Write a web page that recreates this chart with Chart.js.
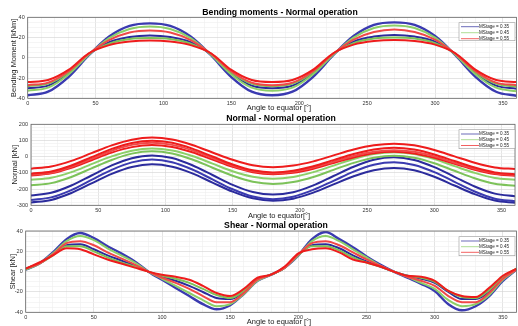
<!DOCTYPE html>
<html><head><meta charset="utf-8">
<script src="https://cdn.jsdelivr.net/npm/chart.js@4.4.1/dist/chart.umd.min.js"></script>
<style>
body{margin:0;background:#fff;width:518px;height:326px;overflow:hidden;position:relative}
canvas{position:absolute;left:0;top:0}
</style>
</head><body>
<canvas id="c1" width="518" height="326"></canvas>
<canvas id="c2" width="518" height="326"></canvas>
<canvas id="c3" width="518" height="326"></canvas>
<script>
// ---- data ----
const angles15 = [0,15,30,45,60,75,90,105,120,135,150,165,180,195,210,225,240,255,270,285,300,315,330,345,360];
const angles10 = [0,10,20,30,40,50,60,70,80,90,100,110,120,130,140,150,160,170,180,190,200,210,220,230,240,250,260,270,280,290,300,310,320,330,340,350,360];
const legendLabels = ["MStage = 0.35","MStage = 0.45","MStage = 0.55"];

// Bending moments [kNm]
const bendBlueA  = [-37,-33.5,-19,2.5,21,31.5,34,31.5,21,2.5,-19,-33.5,-37,-33.5,-19,2.5,21.5,32.5,35,32.5,21.5,2.5,-19,-33.5,-37.5];
const bendGreenA = [-32.5,-29.5,-16.5,3,19.5,28.5,31,28.5,19.5,3,-16.5,-29.5,-32.5,-29.5,-16.5,3,20,29.5,32,29.5,20,3,-16.5,-29.5,-33];
const bendRedA   = [-27,-24.5,-13.5,4,17.5,25,27,25,17.5,4,-13.5,-24.5,-27,-24.5,-13.5,4,18,25.5,28,25.5,18,4,-13.5,-24.5,-27];
const bendBlueB  = [-30,-27.5,-15.5,3.5,15.5,20.5,22,20.5,15.5,3.5,-15.5,-27.5,-30,-27.5,-15.5,3.5,16,21,22.5,21,16,3.5,-15.5,-27.5,-30.5];
const bendGreenB = [-28,-25.5,-14.5,4,14,18.5,19.5,18.5,14,4,-14.5,-25.5,-28,-25.5,-14.5,4,14.5,19,20,19,14.5,4,-14.5,-25.5,-28.5];
const bendRedB   = [-24,-22,-12,4.5,12.5,16,17,16,12.5,4.5,-12,-22,-24,-22,-12,4.5,13,16.5,17.5,16.5,13,4.5,-12,-22,-24];

// Normal [kN]
const normRed1   = [-74,-61,-26,22,70,105,118,106,72,26,-19,-53,-65,-55,-29,8,44,70,80,70,41,2,-37,-66,-76];
const normRed2   = [-105,-91,-54,-3,48,85,99,86,50,1,-48,-84,-97,-87,-59,-21,17,45,55,44,14,-27,-67,-97,-108];
const normRed3   = [-112,-99,-62,-13,37,73,86,73,39,-8,-56,-90,-103,-93,-67,-31,4,30,40,30,2,-37,-75,-103,-113];
const normRed4   = [-116,-103,-69,-22,25,59,72,60,27,-18,-63,-96,-108,-99,-74,-39,-5,21,30,20,-7,-44,-80,-107,-117];
const normGreen1 = [-143,-130,-95,-46,2,37,50,38,4,-43,-90,-124,-136,-125,-95,-55,-14,16,27,16,-15,-58,-100,-131,-142];
const normGreen2 = [-177,-163,-125,-72,-20,19,33,20,-17,-68,-118,-155,-168,-156,-125,-81,-38,-6,6,-6,-40,-87,-133,-167,-179];
const normBlue1  = [-240,-223,-178,-116,-54,-9,8,-8,-53,-113,-174,-218,-234,-219,-177,-119,-62,-19,-4,-20,-64,-124,-184,-228,-244];
const normBlue2  = [-268,-251,-206,-143,-81,-35,-18,-34,-79,-140,-201,-246,-262,-247,-205,-149,-92,-50,-35,-51,-95,-155,-215,-259,-275];
const normBlue3  = [-283,-267,-224,-165,-106,-63,-47,-62,-103,-160,-216,-257,-272,-259,-222,-171,-121,-84,-70,-84,-124,-178,-231,-271,-285];

// Shear [kN]
const shearBlueA  = [2,8,19,32,38,33,25,18,10,0,-8,-16,-24,-32,-37,-33,-22,-9,-3,4,16,32,39,32,24,15,7,0,-6,-12,-19,-32,-38,-34,-24,-9,2];
const shearGreenA = [2,8,18,30,35,31,23,16,9,0,-7,-14,-21,-28,-34,-32,-22,-9,-3,4,16,30,35,30,22,14,6,0,-5,-11,-17,-28,-34,-32,-23,-8,2];
const shearRedA   = [3,8,17,28,30,26,19,13,7,0,-6,-11,-17,-24,-30,-30,-21,-8,-3,4,17,28,30,26,19,12,6,0,-5,-9,-14,-24,-30,-30,-21,-7,2];
const shearBlueB  = [3,8,17,26,27,22,16,11,6,0,-5,-9,-14,-20,-26,-27,-20,-8,-3,4,17,26,27,23,16,10,5,0,-4,-7,-11,-20,-27,-27,-20,-6,2];
const shearGreenB = [3,8,16,25,25,20,14,9,5,0,-4,-7,-11,-17,-23,-26,-19,-7,-3,4,17,25,25,21,14,9,5,0,-4,-6,-10,-19,-25,-26,-18,-5,3];
const shearRedB   = [3,9,16,23,22,17,12,8,4,0,-3,-5,-8,-14,-21,-24,-17,-6,-3,5,18,22,23,19,12,9,5,0,-4,-5,-9,-19,-24,-25,-16,-4,3];

// ---- styling ----
const BLUE = '#2b2b9c', BLUE2 = '#3a3ab0';
const GREEN = '#8ccf68', GREEN2 = '#7cc259';
const RED = '#ee1c1c', RED2 = '#f04848';
const legendColors = [BLUE, GREEN, RED];
const FONT = '"Liberation Sans", Arial, sans-serif';

function ds(xs, ys, color, w) {
  return {
    data: xs.map((x, i) => ({x: x, y: ys[i]})),
    borderColor: color, borderWidth: w || 2, pointRadius: 0,
    cubicInterpolationMode: 'monotone', fill: false
  };
}

const decor = {
  id: 'decor',
  afterDraw(chart) {
    const o = chart.options.plugins.decor;
    const c = chart.ctx, a = chart.chartArea;
    c.save();
    // frame
    c.strokeStyle = '#666'; c.lineWidth = 0.8;
    c.strokeRect(a.left, a.top, a.right - a.left, a.bottom - a.top);
    // title
    c.fillStyle = '#000'; c.font = 'bold 8.7px ' + FONT;
    c.textAlign = 'center'; c.textBaseline = 'middle';
    c.fillText(o.title, o.titleX, o.titleY);
    // x label
    c.fillStyle = '#222'; c.font = '7.5px ' + FONT;
    c.fillText(o.xlabel, o.xlabelX, o.xlabelY);
    // y label
    c.save();
    c.translate(o.ylabelX, (a.top + a.bottom) / 2);
    c.rotate(-Math.PI / 2);
    c.fillText(o.ylabel, 0, 0);
    c.restore();
    // legend
    const L = o.legend;
    c.fillStyle = '#fff'; c.strokeStyle = '#999'; c.lineWidth = 0.6;
    c.fillRect(L.x, L.y, L.w, L.h); c.strokeRect(L.x, L.y, L.w, L.h);
    c.font = '4.6px ' + FONT; c.textAlign = 'right'; c.fillStyle = '#222';
    legendLabels.forEach((t, i) => {
      const y = L.rows[i];
      c.strokeStyle = legendColors[i]; c.lineWidth = 0.7;
      c.beginPath(); c.moveTo(L.x + 2, y); c.lineTo(L.x + 20, y); c.stroke();
      c.fillText(t, L.x + L.w - 6, y);
    });
    c.restore();
  }
};

function makeChart(id, p) {
  return new Chart(document.getElementById(id), {
    type: 'line',
    data: { datasets: p.datasets },
    options: {
      responsive: false, animation: false,
      layout: { padding: p.pad },
      plugins: { legend: {display: false}, tooltip: {enabled: false}, title: {display: false}, decor: p.decor },
      scales: {
        x: {
          type: 'linear', min: 0, max: 360,
          afterFit(s) { s.height = 8; },
          ticks: { stepSize: 10, autoSkip: false, maxRotation: 0, padding: 1.5,
            font: {size: 5.5, family: FONT}, color: '#333',
            callback: v => (v % 50 === 0 ? String(v) : '') },
          grid: { drawTicks: false, lineWidth: 0.6,
            color: ctx => (ctx.tick && ctx.tick.value % 50 === 0) ? '#d2d2d2' : '#efefef' },
          border: { display: false }
        },
        y: {
          type: 'linear', min: p.ymin, max: p.ymax,
          afterFit(s) { s.width = p.yw; },
          ticks: { stepSize: p.minor, autoSkip: false, padding: 3,
            font: {size: 5.5, family: FONT}, color: '#333',
            callback: v => (v % p.major === 0 ? String(v) : '') },
          grid: { drawTicks: false, lineWidth: 0.6,
            color: ctx => (ctx.tick && ctx.tick.value % p.major === 0) ? '#d2d2d2' : '#efefef' },
          border: { display: false }
        }
      }
    },
    plugins: [decor]
  });
}

makeChart('c1', {
  pad: {left: 0, top: 17.3, right: 1, bottom: 219.7},
  yw: 27.7, ymin: -40, ymax: 40, minor: 5, major: 20,
  datasets: [
    ds(angles15, bendRedB, RED), ds(angles15, bendRedA, RED2),
    ds(angles15, bendGreenB, GREEN2), ds(angles15, bendGreenA, GREEN),
    ds(angles15, bendBlueB, BLUE), ds(angles15, bendBlueA, BLUE2, 2.4)
  ],
  decor: { title: 'Bending moments - Normal operation', titleX: 280, titleY: 12.3,
    xlabel: 'Angle to equator [°]', xlabelX: 279, xlabelY: 108.3,
    ylabel: 'Bending Moment [kNm]', ylabelX: 14,
    legend: {x: 459, y: 22.7, w: 56, h: 18, rows: [26.7, 32.7, 38.7]} }
});

makeChart('c2', {
  pad: {left: 0, top: 124.3, right: 3, bottom: 112.7},
  yw: 31, ymin: -300, ymax: 200, minor: 20, major: 100,
  datasets: [
    ds(angles15, normRed1, RED), ds(angles15, normRed2, RED), ds(angles15, normRed3, RED2), ds(angles15, normRed4, RED),
    ds(angles15, normGreen1, GREEN), ds(angles15, normGreen2, GREEN2),
    ds(angles15, normBlue1, BLUE), ds(angles15, normBlue2, BLUE2), ds(angles15, normBlue3, BLUE)
  ],
  decor: { title: 'Normal - Normal operation', titleX: 281, titleY: 119,
    xlabel: 'Angle to equator[°]', xlabelX: 279, xlabelY: 215.5,
    ylabel: 'Normal [kN]', ylabelX: 15,
    legend: {x: 459, y: 129.7, w: 56, h: 19, rows: [134, 139.7, 145.5]} }
});

makeChart('c3', {
  pad: {left: 0, top: 231, right: 1, bottom: 5.7},
  yw: 25.7, ymin: -40, ymax: 40, minor: 5, major: 20,
  datasets: [
    ds(angles10, shearRedB, RED), ds(angles10, shearRedA, RED2),
    ds(angles10, shearGreenB, GREEN2), ds(angles10, shearGreenA, GREEN),
    ds(angles10, shearBlueB, BLUE), ds(angles10, shearBlueA, BLUE2, 2.4)
  ],
  decor: { title: 'Shear - Normal operation', titleX: 276, titleY: 226,
    xlabel: 'Angle to equator [°]', xlabelX: 279, xlabelY: 322,
    ylabel: 'Shear [kN]', ylabelX: 13,
    legend: {x: 459, y: 236.7, w: 56, h: 19, rows: [241, 246.7, 252.3]} }
});
</script>
</body></html>
